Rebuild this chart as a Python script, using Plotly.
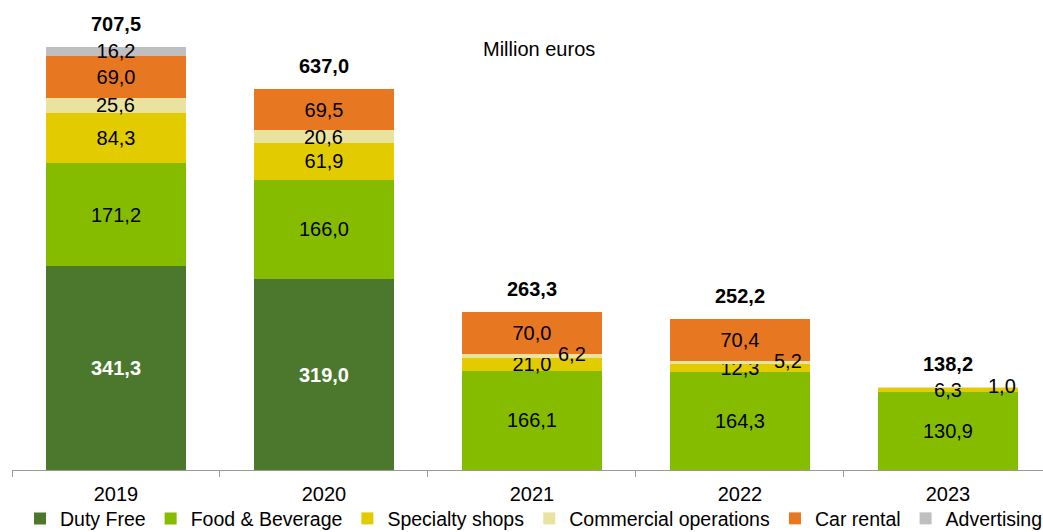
import plotly.graph_objects as go

# Revenue breakdown by business line, million euros
years = ["2019", "2020", "2021", "2022", "2023"]
duty_free = [341.3, 319.0, None, None, None]
food_beverage = [171.2, 166.0, 166.1, 164.3, 130.9]
specialty_shops = [84.3, 61.9, 21.0, 12.3, 6.3]
commercial_ops = [25.6, 20.6, 6.2, 5.2, 1.0]
car_rental = [69.0, 69.5, 70.0, 70.4, None]
advertising = [16.2, None, None, None, None]
totals = [707.5, 637.0, 263.3, 252.2, 138.2]

# horizontal nudge (px) for the thin "Commercial operations" labels
commercial_label_shift = [0, 0, 40, 48, 54]

FONT = "Arial, Liberation Sans, sans-serif"
FS = 20

series = [
    ("Duty Free", duty_free, "#4B782D", "white", "bold"),
    ("Food & Beverage", food_beverage, "#86BC00", "black", "normal"),
    ("Specialty shops", specialty_shops, "#E2CC00", "black", "normal"),
    ("Commercial operations", commercial_ops, "#EAE3A0", "black", "normal"),
    ("Car rental", car_rental, "#E87722", "black", "normal"),
    ("Advertising", advertising, "#BFBFBF", "black", "normal"),
]

fig = go.Figure()
for name, vals, color, tcolor, weight in series:
    show_text = name != "Commercial operations"
    fig.add_trace(go.Bar(
        name=name,
        x=years,
        y=vals,
        marker=dict(color=color, line=dict(width=0)),
        texttemplate="%{y:.1f}" if show_text else None,
        textposition="inside" if show_text else "none",
        insidetextanchor="middle",
        textangle=0,
        textfont=dict(family=FONT, size=FS, color=tcolor, weight=weight),
        hoverinfo="skip",
    ))

# commercial operations labels (partly offset beside thin segments)
for i in range(len(years)):
    base = sum(v for v in (duty_free[i], food_beverage[i], specialty_shops[i]) if v)
    fig.add_annotation(
        x=i, y=base + commercial_ops[i] / 2,
        text=f"{commercial_ops[i]:.1f}".replace(".", ","),
        showarrow=False, xshift=commercial_label_shift[i],
        yshift=2 if commercial_label_shift[i] else 0,
        font=dict(family=FONT, size=FS, color="black"),
    )

# totals above each column
for i, tot in enumerate(totals):
    fig.add_annotation(
        x=i, y=tot, text=f"<b>{tot:.1f}</b>".replace(".", ","),
        showarrow=False, yanchor="middle", yshift=23,
        font=dict(family=FONT, size=FS, color="black"),
    )

fig.add_annotation(
    xref="paper", yref="paper", x=0.511, y=0.915, yshift=13,
    text="Million euros", showarrow=False,
    font=dict(family=FONT, size=FS, color="black"),
)

fig.update_layout(
    width=1043, height=532,
    barmode="stack", bargap=0.327,
    separators=",.",
    margin=dict(l=12, r=0, t=10, b=62, autoexpand=False),
    paper_bgcolor="white", plot_bgcolor="white",
    font=dict(family=FONT, size=FS, color="black"),
    uniformtext=dict(minsize=FS, mode="show"),
    showlegend=True,
    legend=dict(
        orientation="h", x=0.512, xanchor="center", xref="container",
        y=0.025, yanchor="middle", yref="container",
        font=dict(family=FONT, size=19.5, color="black"),
        itemwidth=30, tracegroupgap=0, traceorder="normal",
        bgcolor="rgba(0,0,0,0)",
    ),
    xaxis=dict(
        type="category",
        range=[-0.5, 4.457],
        showline=True, linecolor="#999999", linewidth=1,
        ticks="outside", tickson="boundaries", ticklen=6, tickcolor="#999999",
        ticklabelstandoff=6,
        showgrid=False, zeroline=False,
        tickfont=dict(family=FONT, size=FS, color="black"),
    ),
    yaxis=dict(
        range=[0, 768.6], visible=False, showgrid=False, zeroline=False,
    ),
)

fig.write_html("out.html")
